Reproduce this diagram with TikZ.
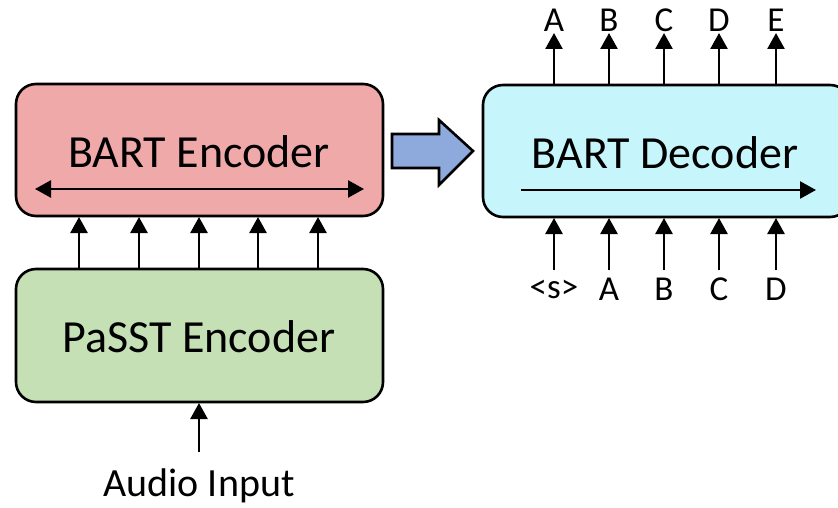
\documentclass[tikz,border=0pt]{standalone}
\usepackage{fontspec}
\setmainfont{Carlito}
\usetikzlibrary{arrows.meta}
\definecolor{encpink}{HTML}{EFA9A9}
\definecolor{encgreen}{HTML}{C5E0B4}
\definecolor{deccyan}{HTML}{C6F6FC}
\definecolor{flowblue}{HTML}{8EA9DB}
\begin{document}
\begin{tikzpicture}[x=1pt,y=-1pt,
  block/.style={draw=black,line width=2.6pt,rounded corners=20pt},
  conn/.style={line width=2.6pt,-{Triangle[length=16pt,width=17pt]}},
  boxtext/.style={font=\fontsize{46}{46}\selectfont,inner sep=0pt},
  tok/.style={font=\fontsize{35}{35}\selectfont,inner sep=0pt}]
\useasboundingbox (0,0) rectangle (838,508);

% boxes
\draw[block,fill=encpink] (16,84) rectangle (383,216);
\draw[block,fill=encgreen] (16,269) rectangle (383,402);
\draw[block,fill=deccyan] (483,85) rectangle (850,217);
\node[boxtext] (enc) at (199,152) {BART Encoder};
\node[boxtext] (pas) at (199,337) {PaSST Encoder};
\node[boxtext] (dec) at (665,153) {BART Decoder};

% attention directions inside the transformer blocks
\coordinate (encL) at (35,189);
\coordinate (encR) at (364,189);
\draw[line width=2.6pt,{Triangle[length=16pt,width=17pt]}-{Triangle[length=16pt,width=17pt]}] (encL) -- (encR);
\coordinate (decL) at (521,190);
\coordinate (decR) at (816,190);
\draw[conn] (decL) -- (decR);

% encoder feature connections
\foreach \i/\x in {1/79,2/139,3/199,4/258,5/318}{
  \coordinate (pt\i) at (\x,269);
  \coordinate (eb\i) at (\x,217);
  \draw[conn] (pt\i) -- (eb\i);
}

% audio input
\node[font=\fontsize{40}{40}\selectfont,inner sep=0pt] (audio) at (199,486) {Audio Input};
\coordinate (aud) at (199,452);
\coordinate (audT) at (199,403);
\draw[conn] (aud) -- (audT);

% block arrow from encoder to decoder
\draw[line width=2.6pt,fill=flowblue,line join=miter]
  (392,134) -- (439,134) -- (439,120) -- (473,151) -- (439,185) -- (439,168) -- (392,168) -- cycle;

% decoder inputs and outputs
\foreach \i/\x/\inp/\outp in {1/554/{<s>}/A,2/609/A/B,3/664/B/C,4/719/C/D,5/776/D/E}{
  \node[tok] (in\i) at (\x,289) {\inp};
  \node[tok] (out\i) at (\x,20) {\outp};
  \coordinate (ib\i) at (\x,270);
  \coordinate (it\i) at (\x,218);
  \coordinate (ob\i) at (\x,85);
  \coordinate (ot\i) at (\x,33);
  \draw[conn] (ib\i) -- (it\i);
  \draw[conn] (ob\i) -- (ot\i);
}
\end{tikzpicture}
\end{document}
